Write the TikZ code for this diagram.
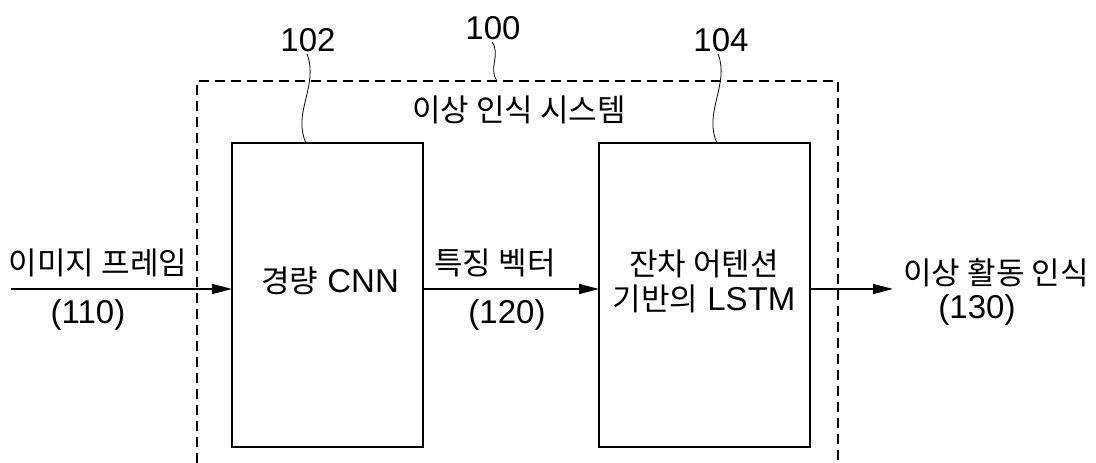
\documentclass[tikz,border=0pt]{standalone}
\usepackage{fontspec}
\setmainfont{Liberation Sans}
\newfontfamily\krfont[Scale=0.94]{Noto Sans CJK KR}
\newcommand{\kr}[1]{{\krfont #1}}
\usetikzlibrary{arrows.meta}
\tikzset{
  blockbox/.style={draw, line width=1.9pt},
  sysbox/.style={draw, line width=1.7pt, dash pattern=on 10pt off 6pt},
  lbl/.style={inner sep=0pt, font=\fontsize{33}{37}\selectfont},
  flow/.style={line width=1.5pt, -{Triangle[length=20pt,width=10pt]}},
  leader/.style={line width=0.8pt},
}
\begin{document}
\begin{tikzpicture}[x=1pt,y=-1pt]
\useasboundingbox (0,0) rectangle (1096,463);
% system boundary (open at the bottom)
\draw[sysbox] (197,463) -- (197,81) -- (838,81) -- (838,463);
% blocks
\draw[blockbox] (232,143) rectangle (423,447);
\draw[blockbox] (599,143) rectangle (810,447);
\node[inner sep=0pt] (b102) at (327.5,295) {};
\node[inner sep=0pt] (b104) at (704.5,295) {};
\coordinate (b102in) at (232,289);
\coordinate (b102out) at (423,289);
\coordinate (b104in) at (599,289);
\coordinate (b104out) at (810,289);
\coordinate (src) at (11,289);
\coordinate (dst) at (893,289);
\coordinate (t100) at (497,81);
\coordinate (t102) at (306,143);
\coordinate (t104) at (717,143);
% texts
\node[lbl] (sys) at (519,110) {\kr{이상 인식 시스템}};
\node[lbl] (cnn) at (330,281) {\kr{경량} CNN};
\node[lbl, align=center] (lstm) at (704,281) {\kr{잔차 어텐션}\\[-2pt]\kr{기반의} LSTM};
\node[lbl] (in) at (98,263) {\kr{이미지 프레임}};
\node[lbl] (in2) at (88,315) {(110)};
\node[lbl] (mid) at (495,263) {\kr{특징 벡터}};
\node[lbl] (mid2) at (507,315) {(120)};
\node[lbl] (out) at (996,273) {\kr{이상 활동 인식}};
\node[lbl] (out2) at (977,310) {(130)};
\node[lbl] (n100) at (493,28) {100};
\node[lbl] (n102) at (308,40) {102};
\node[lbl] (n104) at (721,40) {104};
% leaders
\draw[leader] (n100.south) ++(-1,2) .. controls +(9,13) and +(-9,-13) .. (t100);
\draw[leader] (n102.south) ++(-1,2) .. controls +(12,32) and +(-14,-30) .. (t102);
\draw[leader] (n104.south) ++(-3,2) .. controls +(12,30) and +(-14,-30) .. (t104);
% flow arrows
\draw[flow] (src) -- (b102in);
\draw[flow] (b102out) -- (b104in);
\draw[flow] (b104out) -- (dst);
\end{tikzpicture}
\end{document}
